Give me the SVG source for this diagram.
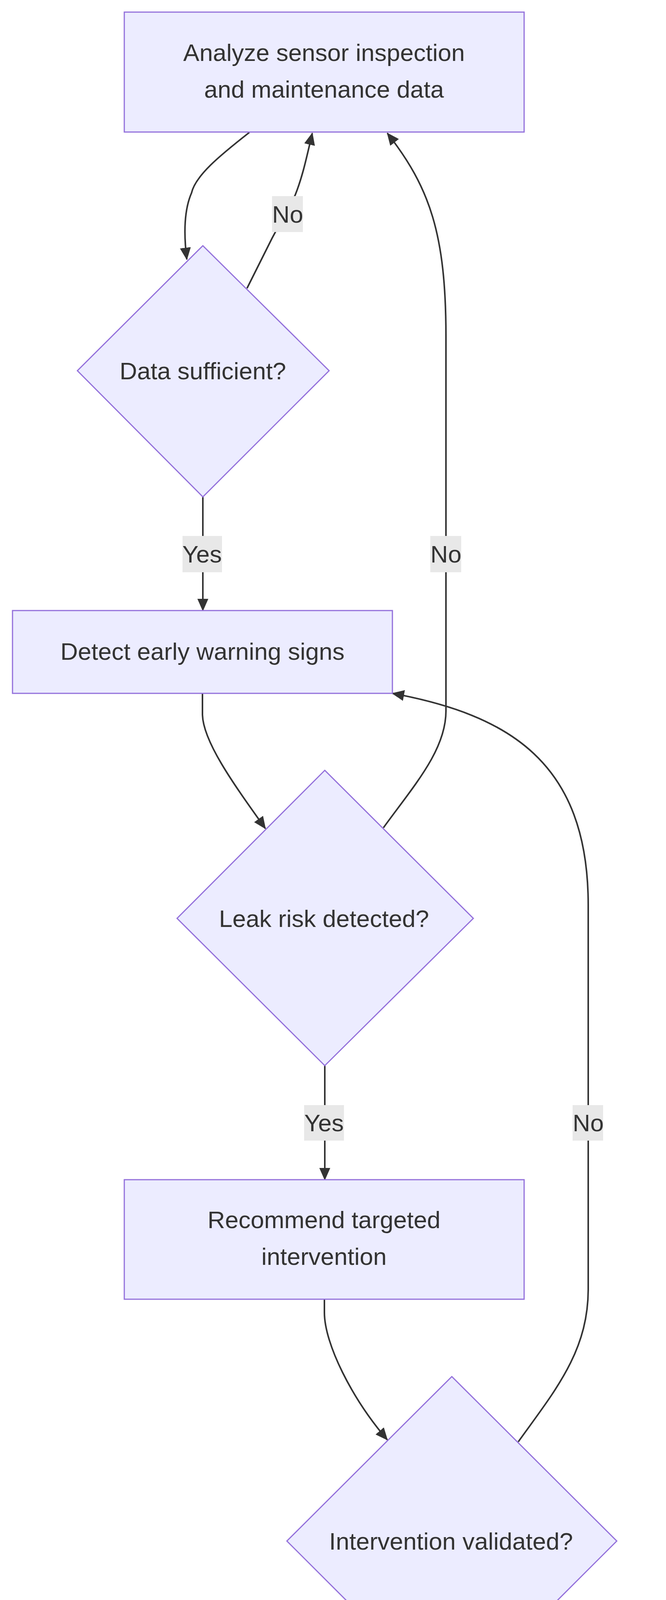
<svg xmlns="http://www.w3.org/2000/svg" width="1704" height="4992" viewBox="0 0 1704 4992">
<style>
.n{fill:#ECECFF;stroke:#9370DB;stroke-width:3}
.t{font-family:"Liberation Sans",Arial,sans-serif;font-size:62px;fill:#333;text-anchor:middle;dominant-baseline:central}
.e{fill:none;stroke:#333;stroke-width:4}
.lb{fill:#e8e8e8}
</style>
<defs>
<marker id="a" viewBox="0 0 32 32" refX="30" refY="16" markerWidth="32" markerHeight="32" markerUnits="userSpaceOnUse" orient="auto">
<path d="M0,2 L32,16 L0,30 z" fill="#333"/>
</marker>
</defs>
<g id="edges">
<path class="e" d="M638,339 C560,400 500,450 490,494 C470,540 470,600 478,664" marker-end="url(#a)"/>
<path class="e" d="M632,738 L696,610 L755,500 C775,450 785,400 799,341" marker-end="url(#a)"/>
<path class="e" d="M519,1272 L519,1563" marker-end="url(#a)"/>
<path class="e" d="M518,1775 L518,1830 C520,1900 600,2010 679,2121" marker-end="url(#a)"/>
<path class="e" d="M981,2119 C1060,2010 1141,1920 1141,1820 L1141,861 C1141,600 1100,480 991,341" marker-end="url(#a)"/>
<path class="e" d="M831,2728 L831,3020" marker-end="url(#a)"/>
<path class="e" d="M830,3326 L830,3360 C830,3440 900,3580 991,3686" marker-end="url(#a)"/>
<path class="e" d="M1326,3691 C1420,3560 1505,3460 1505,3300 L1505,2317 C1505,1950 1300,1830 1004,1775" marker-end="url(#a)"/>
<path class="e" d="M1154,4367 L1154,4659" marker-end="url(#a)"/>
<rect class="lb" x="696" y="502" width="79" height="92"/><text class="t" x="736" y="548">No</text>
<rect class="lb" x="467" y="1372" width="101" height="93"/><text class="t" x="517" y="1418">Yes</text>
<rect class="lb" x="1101" y="1372" width="79" height="93"/><text class="t" x="1141" y="1418">No</text>
<rect class="lb" x="778" y="2829" width="102" height="91"/><text class="t" x="829" y="2874">Yes</text>
<rect class="lb" x="1465" y="2829" width="78" height="91"/><text class="t" x="1505" y="2874">No</text>
<rect class="lb" x="1102" y="4466" width="102" height="93"/><text class="t" x="1154" y="4512">Yes</text>
</g>
<g id="A"><rect class="n" x="318" y="31" width="1023" height="307"/><text class="t" x="829" y="134">Analyze sensor inspection</text><text class="t" x="829" y="228">and maintenance data</text></g>
<g id="D1"><polygon class="n" points="519,629 842,949 519,1272 198,949"/><text class="t" x="519" y="949">Data sufficient?</text></g>
<g id="B"><rect class="n" x="32" y="1563" width="972" height="212"/><text class="t" x="518" y="1667">Detect early warning signs</text></g>
<g id="D2"><polygon class="n" points="831,1972 1211,2351 831,2728 453,2351"/><text class="t" x="829" y="2351">Leak risk detected?</text></g>
<g id="C"><rect class="n" x="318" y="3020" width="1023" height="306"/><text class="t" x="829" y="3122">Recommend targeted</text><text class="t" x="829" y="3216">intervention</text></g>
<g id="D3"><polygon class="n" points="1156,3524 1578,3945 1156,4367 734,3945"/><text class="t" x="1154" y="3945">Intervention validated?</text></g>
<g id="E"><rect class="n" x="667" y="4659" width="974" height="211"/><text class="t" x="1154" y="4763">Deliver prevention insights</text></g>
</svg>
